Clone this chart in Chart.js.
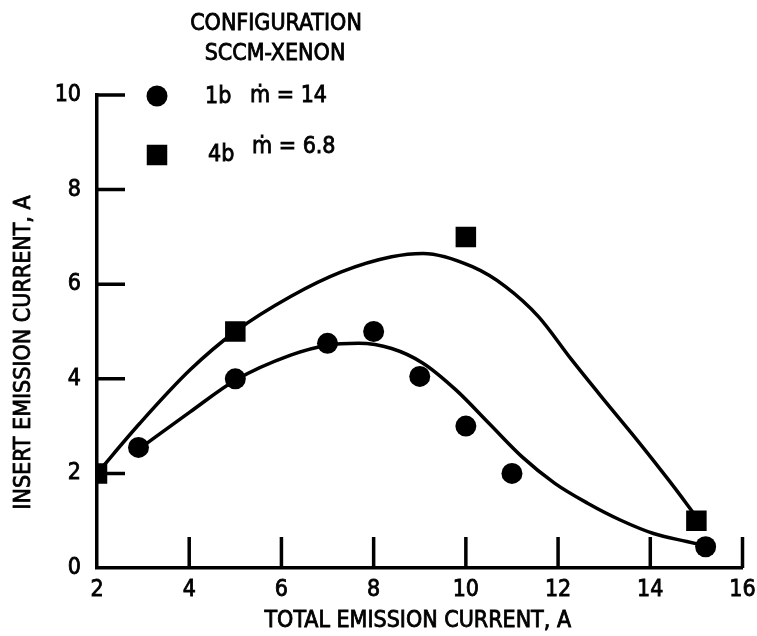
<!DOCTYPE html>
<html>
<head>
<meta charset="utf-8">
<script src="https://cdn.jsdelivr.net/npm/chart.js@4.4.1/dist/chart.umd.min.js"></script>
<style>
  html, body { margin: 0; padding: 0; background: #fff; }
  #wrap { width: 757px; height: 636px; position: relative; }
</style>
</head>
<body>
<div id="wrap"><canvas id="c" width="757" height="636"></canvas></div>
<script>
const FONT = '"Liberation Sans Narrow", "DejaVu Sans Condensed", "Roboto Condensed", sans-serif';
const INK = '#000';
const TEXT_STROKE = 0.8;

// Configuration 1b, m-dot = 14 sccm xenon: measured points
const cfg1bX = [2.9, 5, 7, 8, 9, 10, 11, 15.2];
const cfg1bY = [2.55, 4, 4.75, 5, 4.05, 3, 2, 0.45];

// Configuration 4b, m-dot = 6.8 sccm xenon: measured points
const cfg4bX = [2, 5, 10, 15];
const cfg4bY = [2, 5, 7, 1];

// Faired curve for configuration 1b
const fit1bX = [2.93, 4.02, 5.0, 6.2, 7.0, 7.67, 8.39, 9.07, 9.79, 10.5, 11.22, 11.93, 12.64, 13.36, 14.07, 14.79, 15.2];
const fit1bY = [2.53, 3.30, 3.97, 4.50, 4.71, 4.75, 4.64, 4.33, 3.76, 3.06, 2.35, 1.79, 1.37, 1.01, 0.73, 0.56, 0.47];

// Faired curve for configuration 4b
const fit4bX = [2.0, 2.93, 4.02, 5.0, 6.2, 7.3, 8.39, 9.07, 10.14, 10.86, 11.58, 12.28, 13.0, 13.71, 14.43, 15.0];
const fit4bY = [2.0, 3.06, 4.19, 5.0, 5.74, 6.26, 6.58, 6.65, 6.37, 5.95, 5.31, 4.42, 3.55, 2.71, 1.82, 1.08];

// Axis ticks
const xTicks = [2, 4, 6, 8, 10, 12, 14, 16];
const yTicks = [0, 2, 4, 6, 8, 10];

const xy = (xs, ys) => xs.map((x, i) => ({ x: x, y: ys[i] }));

function label(ctx, text, x, y) {
  ctx.fillText(text, x, y);
  ctx.strokeText(text, x, y);
}

// Short tick marks pointing into the plot from each axis
const innerTicks = {
  id: 'innerTicks',
  beforeDatasetsDraw(chart) {
    const { ctx, scales: { x, y } } = chart;
    ctx.save();
    ctx.strokeStyle = INK;
    ctx.lineWidth = 3.5;
    ctx.lineCap = 'butt';
    ctx.beginPath();
    xTicks.forEach(v => {
      if (v === x.min) return;
      const px = x.getPixelForValue(v);
      ctx.moveTo(px, y.bottom);
      ctx.lineTo(px, y.bottom - 31);
    });
    yTicks.forEach(v => {
      if (v === y.min) return;
      const py = y.getPixelForValue(v);
      ctx.moveTo(x.left, py);
      ctx.lineTo(x.left + 28, py);
    });
    ctx.stroke();
    ctx.restore();
  }
};

// Key (heading plus one row per configuration) and both axis captions
const keyBlock = {
  id: 'keyBlock',
  afterDraw(chart) {
    const ctx = chart.ctx;
    const { x, y } = chart.scales;
    ctx.save();
    ctx.fillStyle = INK;
    ctx.strokeStyle = INK;
    ctx.lineWidth = TEXT_STROKE;
    ctx.textBaseline = 'middle';
    ctx.font = '23px ' + FONT;
    ctx.textAlign = 'center';
    label(ctx, 'CONFIGURATION', 276, 24);
    label(ctx, 'SCCM-XENON', 275, 54);

    Chart.helpers.drawPoint(ctx, { pointStyle: 'circle', radius: 10.5, borderWidth: 0 }, 157, 96);
    Chart.helpers.drawPoint(ctx, { pointStyle: 'rect', radius: 14.5, borderWidth: 0 }, 157, 155);

    ctx.textAlign = 'left';
    label(ctx, '1b', 205, 97);
    label(ctx, '\u1E41 = 14', 250, 96);
    label(ctx, '4b', 208, 155);
    label(ctx, '\u1E41 = 6.8', 252, 147);

    // horizontal axis caption
    ctx.textAlign = 'center';
    label(ctx, 'TOTAL EMISSION CURRENT, A', (x.left + x.right) / 2 - 2, 621);

    // vertical axis caption
    ctx.translate(24, (y.top + y.bottom) / 2 + 21);
    ctx.rotate(-Math.PI / 2);
    label(ctx, 'INSERT EMISSION CURRENT, A', 0, 0);
    ctx.restore();
  }
};

const tickFont = { family: FONT, size: 23 };

new Chart(document.getElementById('c'), {
  type: 'scatter',
  data: {
    datasets: [
      {
        label: '1b',
        data: xy(cfg1bX, cfg1bY),
        pointStyle: 'circle',
        pointRadius: 10.5,
        pointBackgroundColor: INK,
        pointBorderColor: INK,
        pointBorderWidth: 0,
        showLine: false
      },
      {
        label: '4b',
        data: xy(cfg4bX, cfg4bY),
        pointStyle: 'rect',
        pointRadius: 14.5,
        pointBackgroundColor: INK,
        pointBorderColor: INK,
        pointBorderWidth: 0,
        showLine: false
      },
      {
        label: '1b curve',
        data: xy(fit1bX, fit1bY),
        showLine: true,
        pointRadius: 0,
        borderColor: INK,
        borderWidth: 3.5,
        cubicInterpolationMode: 'monotone',
        fill: false
      },
      {
        label: '4b curve',
        data: xy(fit4bX, fit4bY),
        showLine: true,
        pointRadius: 0,
        borderColor: INK,
        borderWidth: 3.5,
        cubicInterpolationMode: 'monotone',
        fill: false
      }
    ]
  },
  options: {
    responsive: false,
    animation: false,
    devicePixelRatio: 1,
    layout: { padding: { top: 95, right: 13, left: 0, bottom: 0 } },
    plugins: { legend: { display: false }, tooltip: { enabled: false } },
    scales: {
      x: {
        type: 'linear',
        min: 2,
        max: 16,
        afterBuildTicks: s => { s.ticks = xTicks.map(v => ({ value: v })); },
        afterFit: s => { s.height = 68; s.paddingLeft = 0; s.paddingRight = 0; },
        grid: { display: true, drawOnChartArea: false, drawTicks: false },
        border: { display: true, width: 3.5, color: INK },
        ticks: {
          color: INK, font: tickFont, padding: 8, maxRotation: 0, autoSkip: false,
          textStrokeColor: INK, textStrokeWidth: TEXT_STROKE
        },
        title: { display: false }
      },
      y: {
        type: 'linear',
        min: 0,
        max: 10,
        afterBuildTicks: s => { s.ticks = yTicks.map(v => ({ value: v })); },
        afterFit: s => { s.width = 97; s.paddingTop = 0; s.paddingBottom = 0; },
        grid: { display: true, drawOnChartArea: false, drawTicks: false },
        border: { display: true, width: 3.5, color: INK },
        ticks: {
          color: INK, font: tickFont, padding: 16, autoSkip: false,
          textStrokeColor: INK, textStrokeWidth: TEXT_STROKE
        },
        title: { display: false }
      }
    }
  },
  plugins: [innerTicks, keyBlock]
});
</script>
</body>
</html>
